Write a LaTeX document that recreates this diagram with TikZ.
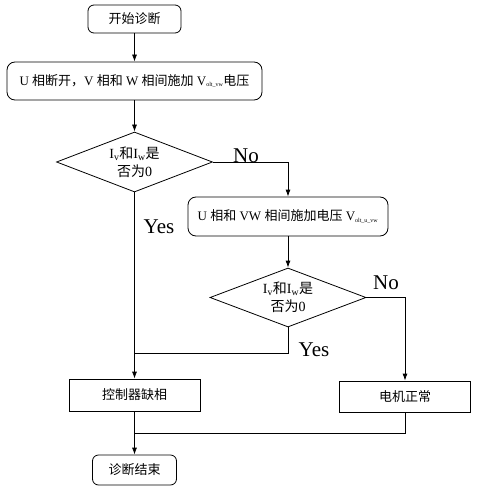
\documentclass[tikz,border=0pt]{standalone}
\usepackage{fontspec}
\setmainfont{Liberation Serif}
\newfontfamily\cjk{Noto Sans CJK SC}
\usetikzlibrary{shapes.geometric,arrows.meta}
\newcommand{\zh}[1]{{\cjk #1}}
\begin{document}
\begin{tikzpicture}[x=1pt,y=-1pt,
  line width=0.8pt,
  arr/.style={-{Latex[length=7pt,width=5pt]}},
  rbox/.style={draw,rounded corners=6pt,inner sep=0pt,font=\fontsize{13}{15}\selectfont},
  sbox/.style={draw,inner sep=0pt,font=\fontsize{13}{15}\selectfont},
  dbox/.style={draw,shape=diamond,aspect=2.6,inner sep=0pt,minimum width=156pt,align=center,font=\fontsize{14}{18}\selectfont},
  lab/.style={font=\fontsize{21}{23}\selectfont,inner sep=0pt}]
\useasboundingbox (0,0) rectangle (485,494);
\node[rbox,minimum width=93pt,minimum height=28pt] (start) at (134.5,19) {\zh{开始诊断}};
\node[rbox,rounded corners=8pt,minimum width=255pt,minimum height=38pt] (b2) at (134.5,81)
  {U \zh{相断开，}V \zh{相和} W \zh{相间施加} V\textsubscript{\fontsize{6}{7}\selectfont olt\_vw}\zh{电压}};
\node[dbox,minimum height=60pt] (d1) at (134.5,162) {I\textsubscript{v}\zh{和}I\textsubscript{w}\zh{是}\\\zh{否为}0};
\node[rbox,rounded corners=8pt,minimum width=200pt,minimum height=39pt] (b3) at (288,216.5)
  {U \zh{相和} VW \zh{相间施加电压} V\textsubscript{\fontsize{6}{7}\selectfont olt\_u\_vw}};
\node[dbox,minimum height=59pt] (d2) at (288,297.5) {I\textsubscript{v}\zh{和}I\textsubscript{w}\zh{是}\\\zh{否为}0};
\node[sbox,minimum width=131pt,minimum height=32pt] (lack) at (134.5,395) {\zh{控制器缺相}};
\node[sbox,minimum width=131pt,minimum height=31pt] (normal) at (405,396.5) {\zh{电机正常}};
\node[rbox,minimum width=84pt,minimum height=30pt] (end) at (134.5,470) {\zh{诊断结束}};
\coordinate (j1) at (134.5,353);
\coordinate (j2) at (134.5,433);
\draw[arr] (start) -- (b2);
\draw[arr] (b2) -- (d1);
\draw[arr] (d1.east) -| (b3.north);
\draw[arr] (b3) -- (d2);
\draw[arr] (d2.east) -| (normal.north);
\draw[arr] (d1.south) -- (lack.north);
\draw (d2.south) |- (j1);
\draw[arr] (lack.south) -- (end.north);
\draw (normal.south) |- (j2);
\node[lab] (no1) at (246,156) {No};
\node[lab] (yes1) at (159,227) {Yes};
\node[lab] (no2) at (386,283) {No};
\node[lab] (yes2) at (314,350) {Yes};
\end{tikzpicture}
\end{document}
